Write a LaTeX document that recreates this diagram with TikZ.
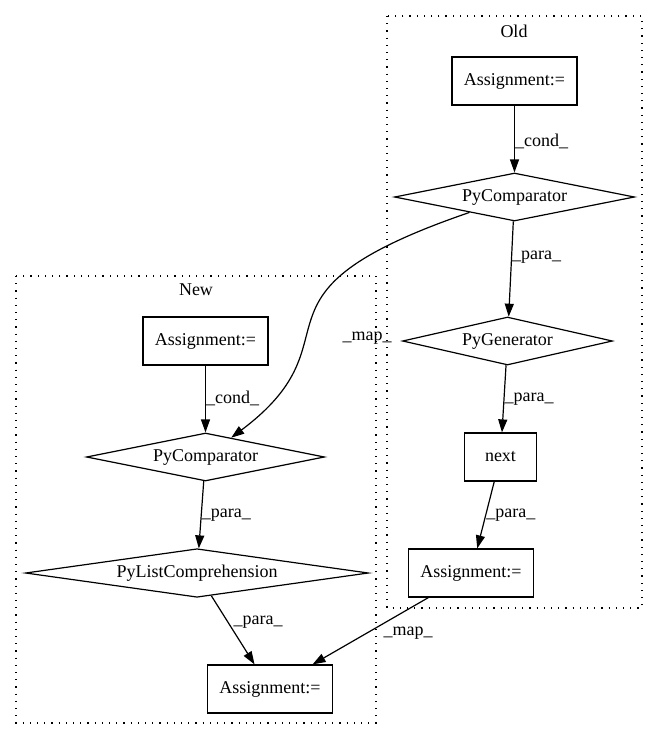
\documentclass[tikz,border=0pt]{standalone}
\usepackage{fontspec}
\setmainfont{Liberation Serif}
\usepackage{tikz}
\usetikzlibrary{shapes.geometric}
\usetikzlibrary{arrows.meta,arrows}
\usetikzlibrary{positioning}
\begin{document}
\begin{tikzpicture}[x=1pt,y=1pt,node distance=116pt,line width=1.2pt,
  >={Triangle[length=13pt,width=9pt]},font=\fontsize{18}{22}\selectfont]
\tikzstyle{box node}=[rectangle,draw,inner sep=0,minimum width=125pt,minimum height=48pt]
\tikzstyle{diam node}=[diamond,draw,inner sep=0,aspect=5,minimum height=48pt]
\tikzstyle{lbl node}=[anchor=west,inner sep=0]
\tikzset{
  cluster box/.style = {draw,dash pattern=on 1.2pt off 6pt},
  title node/.style = {inner sep=0}
}
\useasboundingbox (0,0) rectangle (659,-740);

    % clusters
    \draw[cluster box] (387,-16) rectangle (642,-608);
    \draw[cluster box] (16,-276) rectangle (376,-723);
    \node[title node] (old) at (514,-31) {Old};
    \node[title node] (new) at (196,-290) {New};

    % Old
    \node[box node]                          (oa1)   at (514.5,-81)  {Assignment:=};
    \node[diam node,minimum width=240pt]     (opc)   [below of=oa1]  {PyComparator};
    \node[diam node,minimum width=210pt]     (ogen)  [below of=opc,node distance=144pt,xshift=-7pt] {PyGenerator};
    \node[box node,minimum width=72pt]       (onext) [below of=ogen,xshift=-7pt]   {next};
    \node[box node]                          (oa2)   [below of=onext,xshift=-29.5pt] {Assignment:=};

    % New
    \node[box node]                          (na1)   at (205.5,-341) {Assignment:=};
    \node[diam node,minimum width=238pt]     (npc)   [below of=na1]  {PyComparator};
    \node[diam node,minimum width=343pt]     (nlc)   [below of=npc,xshift=-8.5pt] {PyListComprehension};
    \node[box node]                          (na2)   [below of=nlc,xshift=73pt]   {Assignment:=};

    \node[title node] (map1) at (367,-338) {\_map\_};
    \node[title node] (map2) at (408,-633) {\_map\_};

    \path[->]
        (oa1)   edge node[lbl node,pos=0.53]  {\_cond\_} (opc)
        (opc)   edge node[lbl node,pos=0.375] {\_para\_} (ogen)
        (ogen)  edge node[lbl node,pos=0.51]  {\_para\_} (onext)
        (onext) edge node[lbl node,pos=0.5]   {\_para\_} (oa2)
        %%%%%%%%%%%%%%%%%%%
        (na1)   edge node[lbl node,pos=0.49]  {\_cond\_} (npc)
        (npc)   edge node[lbl node,pos=0.5]   {\_para\_} (nlc)
        (nlc)   edge node[lbl node,pos=0.386,xshift=5pt] {\_para\_} (na2)
        %%%%%%%%%%%%%%%%%%%
        (oa2)   edge node {} (na2)
;
    \draw[->] (opc) .. controls (228.5,-295) and (365.8,-336.7) .. (npc);
\end{tikzpicture}
\end{document}
